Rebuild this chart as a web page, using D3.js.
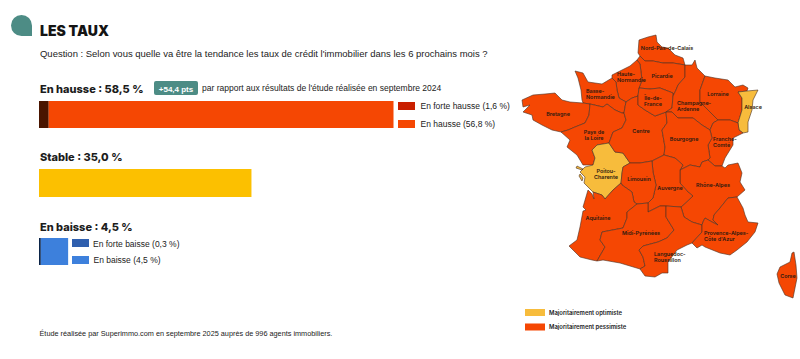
<!DOCTYPE html>
<html><head><meta charset="utf-8">
<script src="https://cdn.jsdelivr.net/npm/d3@7"></script>
<style>html,body{margin:0;padding:0;background:#fff}svg{display:block}</style>
</head><body><svg id="c" width="800" height="359"></svg>
<script>
// ---- bar data
const groupTitles = ["En hausse : 58,5 %", "Stable : 35,0 %", "En baisse : 4,5 %"];
const hausseValues = [1.6, 56.8];
const stableValues = [35.0];
const baisseValues = [0.3, 4.5];
const hausseLegend = ["En forte hausse (1,6 %)", "En hausse (56,8 %)"];
const baisseLegend = ["En forte baisse (0,3 %)", "En baisse (4,5 %)"];
const badgeText = "+54,4 pts";
const badgeNote = "par rapport aux résultats de l'étude réalisée en septembre 2024";
const titleText = "LES TAUX";
const questionText = "Question : Selon vous quelle va être la tendance les taux de crédit l'immobilier dans les 6 prochains mois ?";
const footerText = "Étude réalisée par Superimmo.com en septembre 2025 auprès de 996 agents immobiliers.";
const mapLegend = ["Majoritairement optimiste", "Majoritairement pessimiste"];

// ---- map data: shared region borders in map units
const arcs = {
 npcN:[[640,56],[638,53],[639,40],[648,37],[656,35],[657,42],[662,47],[668,48],[675,55],[683,58],[685,65]],
 npcS:[[640,56],[645,61],[653,61],[663,63],[673,63],[685,65]],
 picCoast:[[640,56],[637,60]],
 picHN:[[637,60],[640,64],[641,72],[642,80],[639,88]],
 picIDF:[[639,88],[650,89],[660,88],[673,93],[673,96]],
 picCh:[[685,65],[685,77],[678,85],[676,90],[673,96]],
 chN:[[685,65],[692,65],[695,60],[697,68],[705,76]],
 hnCoast:[[637,60],[630,66],[620,71],[612,75],[612,78]],
 hnBN:[[612,78],[616,82],[617,90],[619,98],[626,102]],
 hnCen:[[626,102],[632,98],[638,96]],
 hnIDF:[[638,96],[639,88]],
 idfCen:[[638,96],[638,105],[645,110],[655,116],[666,112]],
 idfCh:[[666,112],[672,108],[673,96]],
 bnCoast:[[612,78],[602,84],[588,82],[583,73],[575,71],[578,78],[581,90],[582,100],[583,103]],
 bnBr:[[583,103],[590,104]],
 bnPays:[[590,104],[603,107],[607,104],[615,110],[622,113],[624,113]],
 bnCen:[[624,113],[625,107],[626,102]],
 brN:[[583,103],[570,102],[562,100],[555,93],[545,94],[533,95],[522,100],[523,107],[530,105],[523,112],[532,115],[533,120],[542,125],[552,130],[561,132]],
 brPays:[[590,104],[589,115],[585,123],[575,127],[568,130],[561,132]],
 paysCoast:[[561,132],[570,140],[567,147],[577,155],[583,165],[593,165]],
 paysPoi:[[593,165],[595,158],[592,150],[597,145],[609,143]],
 paysCen:[[624,113],[626,120],[622,128],[613,132],[609,143]],
 poiCoast:[[593,165],[585,167],[580,172],[585,177],[584,183],[593,192]],
 poiAq:[[593,192],[602,195],[605,199],[613,190],[621,183]],
 poiLim:[[621,183],[622,173],[623,167],[630,163]],
 poiCen:[[609,143],[615,152],[623,153],[630,163]],
 cenLim:[[630,163],[640,163],[652,161]],
 cenAuv:[[652,161],[664,155]],
 cenBo:[[666,112],[667,123],[662,130],[665,147],[664,155]],
 boAuv:[[664,155],[675,158],[683,165],[680,170]],
 boRh:[[680,170],[690,165],[700,167],[702,162],[708,160]],
 boCh:[[666,112],[672,112],[678,118],[693,118],[702,125],[710,130]],
 boFc:[[710,130],[712,138],[708,145],[710,158],[708,160]],
 chLor:[[705,76],[700,90],[700,102],[715,117],[718,120]],
 chFc:[[718,120],[713,123],[710,130]],
 lorN:[[705,76],[715,78],[728,80],[735,87],[743,85],[748,88],[747,91]],
 lorAl:[[747,91],[738,92],[742,98],[742,110],[738,123]],
 lorFc:[[718,120],[730,120],[738,123]],
 alOut:[[747,91],[758,90],[753,100],[752,110],[748,122],[748,132],[743,133]],
 alFc:[[738,123],[739,130],[743,133]],
 fcE:[[743,133],[733,138],[733,145],[725,158],[722,166]],
 fcRh:[[722,166],[715,166],[708,160]],
 rhE:[[722,166],[725,168],[728,165],[738,163],[742,173],[740,182],[745,190],[737,197]],
 rhPa:[[737,197],[728,198],[720,208],[714,215],[713,220],[718,225],[712,222],[705,218],[703,222],[702,225]],
 paE:[[737,197],[743,208],[745,215],[748,222],[758,223],[755,232],[747,242],[737,250],[730,255],[720,253],[705,247],[702,245],[697,248],[692,243]],
 paLr:[[702,225],[702,232],[692,243]],
 rhLr:[[681,207],[684,217],[692,222],[702,225]],
 rhAuv:[[680,170],[680,183],[688,192],[693,196],[681,207]],
 auvLr:[[681,207],[666,206]],
 auvMi:[[666,206],[660,206],[648,212],[648,203]],
 auvLim:[[648,203],[653,198],[656,185],[653,172],[652,161]],
 limAq:[[621,183],[622,185],[632,192],[634,202],[637,204]],
 limMi:[[637,204],[648,203]],
 aqMi:[[637,204],[627,212],[627,218],[623,228],[602,232],[600,240],[605,247],[597,261]],
 aqCoast:[[593,192],[594,199],[592,194],[588,190],[583,207],[586,210],[583,211],[580,227],[577,240],[569,246],[575,252],[580,257],[592,260],[597,261]],
 miS:[[597,261],[603,260],[620,263],[640,269]],
 miLr:[[666,206],[666,217],[674,230],[667,238],[658,242],[643,246],[639,250],[643,257],[645,266],[640,269]],
 lrCoast:[[692,243],[687,245],[677,250],[668,262],[668,273],[662,273],[655,277],[645,276],[640,269]],
 corse:[[792,253],[794,252],[796,265],[797,278],[793,298],[785,295],[779,283],[777,274],[780,267],[790,262],[792,253]],
 re:[[577,166],[583,169],[582,170],[576,168],[577,166]],
 oleron:[[580,174],[583,178],[582,181],[579,176],[580,174]]
};
const regionNames = ["Nord-Pas-de-Calais","Picardie","Haute-Normandie","Basse-Normandie","Bretagne","Pays de la Loire","Poitou-Charente","Centre","Île-de-France","Champagne-Ardenne","Lorraine","Alsace","Franche-Comté","Bourgogne","Rhône-Alpes","Auvergne","Limousin","Aquitaine","Midi-Pyrénées","Languedoc-Roussillon","Provence-Alpes-Côte d'Azur","Corse"];
const regionRings = [
 [["npcN","-npcS"]],
 [["npcS","picCh","-picIDF","-picHN","-picCoast"]],
 [["hnCoast","hnBN","hnCen","hnIDF","-picHN"]],
 [["bnCoast","bnBr","bnPays","bnCen","-hnBN"]],
 [["brN","-brPays","-bnBr"]],
 [["brPays","paysCoast","paysPoi","-paysCen","-bnPays"]],
 [["paysPoi","poiCen","-poiLim","-poiAq","-poiCoast"],["re"],["oleron"]],
 [["hnCen","idfCen","cenBo","-cenAuv","-cenLim","-poiCen","-paysCen","bnCen"]],
 [["hnIDF","picIDF","-idfCh","-idfCen"]],
 [["chN","chLor","chFc","-boCh","idfCh","-picCh"]],
 [["lorN","lorAl","-lorFc","-chLor"]],
 [["alOut","-alFc","-lorAl"]],
 [["lorFc","alFc","fcE","fcRh","-boFc","-chFc"]],
 [["boCh","boFc","-boRh","-boAuv","-cenBo"]],
 [["boRh","-fcRh","rhE","rhPa","-rhLr","-rhAuv"]],
 [["cenAuv","boAuv","rhAuv","auvLr","auvMi","auvLim"]],
 [["cenLim","-auvLim","-limMi","-limAq","poiLim"]],
 [["poiAq","limAq","aqMi","-aqCoast"]],
 [["limMi","-auvMi","miLr","-miS","-aqMi"]],
 [["rhLr","paLr","lrCoast","-miLr","-auvLr"]],
 [["rhPa","paLr","-paE"]],
 [["corse"]]
];
const optimistRegions = ["Poitou-Charente","Alsace"];
const labelLines = [["Nord-Pas-de-Calais"],["Picardie"],["Haute-","Normandie"],["Basse-","Normandie"],["Bretagne"],["Pays de","la Loire"],["Poitou-","Charente"],["Centre"],["Île-de-","France"],["Champagne-","Ardenne"],["Lorraine"],["Alsace"],["Franche-","Comté"],["Bourgogne"],["Rhône-Alpes"],["Auvergne"],["Limousin"],["Aquitaine"],["Midi-Pyrénées"],["Languedoc-","Roussillon"],["Provence-Alpes-","Côte d'Azur"],["Corse"]];

// ---- layout
const svg = d3.select("#c");
const BODY = "'Liberation Sans',Arial,sans-serif", HEAD = "Inter,'Noto Sans',sans-serif";
const x = d3.scaleLinear().domain([0, 58.4]).range([39, 393.5]);
const w = d => x(d) - x(0);
const teal = "#4d8c85";

// decoration + headings
const drop = d3.path();
drop.moveTo(32, 36); drop.lineTo(21.5, 36); drop.arc(21.5, 25.5, 10.5, Math.PI/2, Math.PI*2 + 0, false);
drop.closePath();
svg.append("path").attr("d", drop.toString()).attr("fill", teal);
function txt(t, px, py, size, weight, fam, col, anchor){
  return svg.append("text").attr("x", px).attr("y", py).attr("font-size", size).attr("font-weight", weight)
    .attr("font-family", fam).attr("fill", col).attr("text-anchor", anchor || "start").text(t);
}
txt(titleText, 40, 36, 14, 900, HEAD, "#141414");
txt(questionText, 40, 57, 9.47, 400, BODY, "#222");
const titleY = [93, 161, 231];
groupTitles.forEach((t, i) => txt(t, 40, titleY[i], 11, 800, HEAD, "#1c1c1c"));
svg.append("rect").attr("x", 154).attr("y", 81).attr("width", 44).attr("height", 14).attr("rx", 2).attr("fill", teal);
txt(badgeText, 176, 91.5, 8, 700, BODY, "#fff", "middle");
txt(badgeNote, 202, 91, 8.52, 400, BODY, "#222");
txt(footerText, 39.5, 336, 7.3, 400, BODY, "#222");

// bars
function stack(values, colors, top, h){
  const offs = d3.cumsum([0, ...values]);
  svg.append("g").selectAll("rect").data(values).join("rect")
    .attr("x", (d, i) => x(offs[i])).attr("y", top).attr("width", d => w(d)).attr("height", h)
    .attr("fill", (d, i) => colors[i]);
}
stack(hausseValues, ["#4a1500", "#f54703"], 101, 27);
stack(stableValues, ["#fcc000"], 169, 28);
stack(baisseValues, ["#0b2447", "#3d80dc"], 238, 27);

// bar legends
function legend(items, colors, sx, sy, tx, ty, sh){
  items.forEach((t, i) => {
    svg.append("rect").attr("x", sx).attr("y", sy[i]).attr("width", 17).attr("height", sh).attr("fill", colors[i]);
    txt(t, tx[i], ty[i], 8.5, 400, BODY, "#222");
  });
}
legend(hausseLegend, ["#c91f00", "#f54703"], 398, [102, 120], [420.5, 420.5], [108.5, 127], 8);
legend(baisseLegend, ["#2f5fae", "#3d80dc"], 72, [239, 256], [93, 93.5], [246.5, 262.5], 8);

// map
const ringCoords = names => {
  const pts = [];
  names.forEach(n => {
    const rev = n[0] === "-", a = arcs[rev ? n.slice(1) : n];
    const seq = rev ? a.slice().reverse() : a;
    seq.forEach((p, i) => { if (i || !pts.length) pts.push(p); });
  });
  return pts;
};
const features = regionNames.map((n, i) => ({type:"Feature", properties:{name:n},
  geometry:{type:"MultiPolygon", coordinates: regionRings[i].map(r => [ringCoords(r)])}}));
const path = d3.geoPath(d3.geoIdentity());
const mapColor = d3.scaleOrdinal().domain(["opt","pes"]).range(["#f7bc3c", "#f54703"]);
svg.append("g").selectAll("path").data(features).join("path")
  .attr("d", path)
  .attr("fill", d => mapColor(optimistRegions.includes(d.properties.name) ? "opt" : "pes"))
  .attr("stroke", "#4a3024").attr("stroke-width", 0.6).attr("stroke-linejoin", "round");

// map labels: anchor x, first-line y, alignment
const labelPlace = [[667,50,"middle"],[662,78,"middle"],[617,76,"start"],[586,93,"start"],[558,116,"middle"],[594,134,"middle"],[606,173,"middle"],[641,133,"middle"],[653,100,"middle"],[677,105,"start"],[718,96,"middle"],[753,109,"middle"],[713,141,"start"],[684,141,"middle"],[713,187,"middle"],[670,190,"middle"],[639,181,"middle"],[598,220,"middle"],[641,235,"middle"],[654,256,"start"],[704,235,"start"],[788,278,"middle"]];
const g = svg.append("g");
labelLines.forEach((lines, i) => {
  const [lx, ly, an] = labelPlace[i];
  lines.forEach((t, j) => {
    g.append("text").attr("x", lx).attr("y", ly + j * 6.2).attr("text-anchor", an)
      .attr("font-family", HEAD).attr("font-size", 5.4).attr("font-weight", 600)
      .attr("fill", "#2e1a10").text(t);
  });
});

// map legend
mapLegend.forEach((t, i) => {
  svg.append("rect").attr("x", 525).attr("y", [309, 323.5][i]).attr("width", 20).attr("height", 7)
    .attr("fill", mapColor(["opt","pes"][i]));
  txt(t, 549, [314.5, 329][i], 5.9, 600, HEAD, "#222");
});
</script></body></html>
